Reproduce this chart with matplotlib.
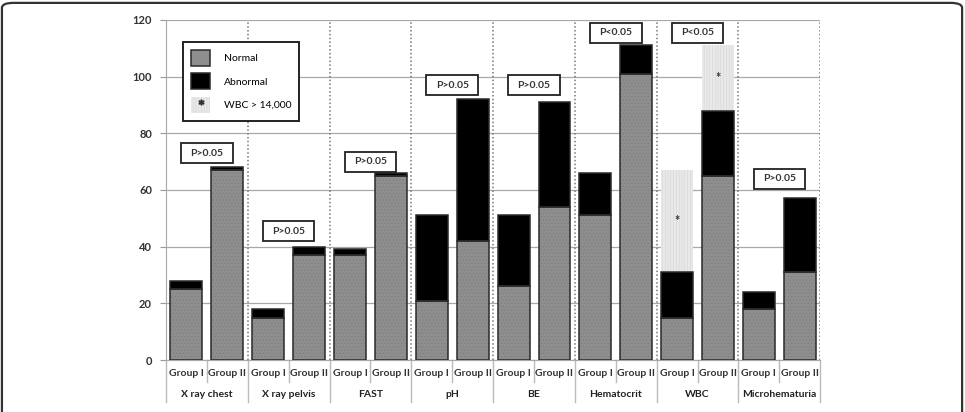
import matplotlib
matplotlib.use('Agg')
import matplotlib.pyplot as plt
from matplotlib.patches import Patch, Rectangle, FancyBboxPatch
from matplotlib.lines import Line2D
import matplotlib.transforms as mtransforms

plt.rcParams['font.family'] = ['Lato', 'DejaVu Sans']
plt.rcParams['hatch.linewidth'] = 0.4

# ── data ──────────────────────────────────────────────────────────────────────
categories = ['X ray chest', 'X ray pelvis', 'FAST', 'pH', 'BE',
              'Hematocrit', 'WBC', 'Microhematuria']
groups = ['Group I', 'Group II']

normal_g1   = [25, 15, 37, 21, 26, 51, 15, 18]
abnormal_g1 = [3, 3, 2, 30, 25, 15, 16, 6]
wbc_hi_g1   = [0, 0, 0, 0, 0, 0, 36, 0]      # WBC > 14,000 share

normal_g2   = [67, 37, 65, 42, 54, 101, 65, 31]
abnormal_g2 = [1, 3, 1, 50, 37, 10, 23, 26]
wbc_hi_g2   = [0, 0, 0, 0, 0, 0, 23, 0]

p_labels = ['P>0.05', 'P>0.05', 'P>0.05', 'P>0.05', 'P>0.05',
            'P<0.05', 'P<0.05', 'P>0.05']
p_y      = [73, 45.5, 70, 97, 97, 115.5, 115.5, 64]

GREY  = '#8e8e8e'
LIGHT = '#e9e9e9'
EDGE  = '#2a2a2a'

fig = plt.figure(figsize=(9.65, 4.12), dpi=100)
ax = fig.add_axes([0.172, 0.1262, 0.678, 0.8253])

# outer rounded frame
fig.patches.append(FancyBboxPatch((0.002, -0.05), 0.995, 1.043,
                                  boxstyle='round,pad=0,rounding_size=0.012',
                                  transform=fig.transFigure, fill=False,
                                  edgecolor='#333333', lw=1.6))

bw = 0.78
for i in range(len(categories)):
    for j, (nrm, abn, hi) in enumerate([(normal_g1, abnormal_g1, wbc_hi_g1),
                                        (normal_g2, abnormal_g2, wbc_hi_g2)]):
        x = 2 * i + j
        ax.bar(x, nrm[i], width=bw, color=GREY, edgecolor='#7c7c7c', lw=0,
               hatch='.....', zorder=3)
        ax.bar(x, abn[i], bottom=nrm[i], width=bw, color='black',
               edgecolor=EDGE, lw=1.1, zorder=3)
        ax.bar(x, nrm[i], width=bw, color='none', edgecolor=EDGE, lw=1.1, zorder=4)
        if hi[i]:
            base = nrm[i] + abn[i]
            ax.bar(x, hi[i], bottom=base, width=bw, color=LIGHT,
                   edgecolor='#d4d4d4', lw=0, hatch='||||||', zorder=2)
            ax.text(x, base + hi[i] / 2, '*', ha='center', va='center',
                    fontsize=9, fontweight='bold', color='#333333', zorder=5)

# p-value boxes
for i, (lbl, y) in enumerate(zip(p_labels, p_y)):
    xc = 2 * i + 0.5
    ax.add_patch(Rectangle((xc - 0.63, y - 3.5), 1.26, 7, facecolor='white',
                           edgecolor='#222222', lw=1.3, zorder=6))
    ax.text(xc, y, lbl, ha='center', va='center', fontsize=7.5,
            fontweight='bold', color='#333333', zorder=7)

ax.set_xlim(-0.5, 15.5)
ax.set_ylim(0, 120)
ax.set_yticks(range(0, 121, 20))
ax.tick_params(axis='y', length=4, color='#999999', labelsize=8, pad=6)
for t in ax.get_yticklabels():
    t.set_fontweight('bold')
    t.set_color('#333333')
ax.set_xticks([])
ax.yaxis.grid(True, color='#a8a8a8', lw=0.9, zorder=0)
ax.set_axisbelow(True)
for s in ['top', 'right']:
    ax.spines[s].set_visible(False)
ax.spines['left'].set_color('#a8a8a8')
ax.spines['bottom'].set_color('#a8a8a8')

# dotted category separators inside plot
for k in range(1, len(categories) + 1):
    ax.axvline(2 * k - 0.5, color='#777777', lw=1.1, ls=(0, (1, 1.5)), zorder=1)

# two-level x labels
trans = mtransforms.blended_transform_factory(ax.transData, ax.transAxes)
for i, cat in enumerate(categories):
    for j, g in enumerate(groups):
        ax.text(2 * i + j, -0.041, g, transform=trans, ha='center', va='center',
                fontsize=7.5, fontweight='bold', color='#333333')
    ax.text(2 * i + 0.5, -0.1, cat, transform=trans, ha='center', va='center',
            fontsize=7.5, fontweight='bold', color='#222222')
    ax.plot([2 * i + 0.5] * 2, [0, -0.065], transform=trans, clip_on=False,
            color='#bbbbbb', lw=1)
for k in range(len(categories) + 1):
    ax.plot([2 * k - 0.5] * 2, [0, -0.124], transform=trans, clip_on=False,
            color='#bbbbbb', lw=1)

# legend
handles = [Patch(facecolor=GREY, edgecolor=EDGE, lw=1.1),
           Patch(facecolor='black', edgecolor=EDGE, lw=1.1),
           (Patch(facecolor=LIGHT, edgecolor='#d4d4d4', hatch='||||||', lw=0),
            Line2D([], [], marker='$*$', color='#333333', ls='none', markersize=3.5))]
leg = ax.legend(handles, ['Normal', 'Abnormal', 'WBC > 14,000'],
                loc='upper left', bbox_to_anchor=(0.018, 0.952), fontsize=7.5,
                handlelength=1.8, handleheight=2.0, labelspacing=0.7,
                borderpad=0.8, handletextpad=1.3, fancybox=False,
                framealpha=1, edgecolor='#222222')
leg.get_frame().set_linewidth(1.4)
leg.set_zorder(10)

plt.savefig('out.png', dpi=100)
